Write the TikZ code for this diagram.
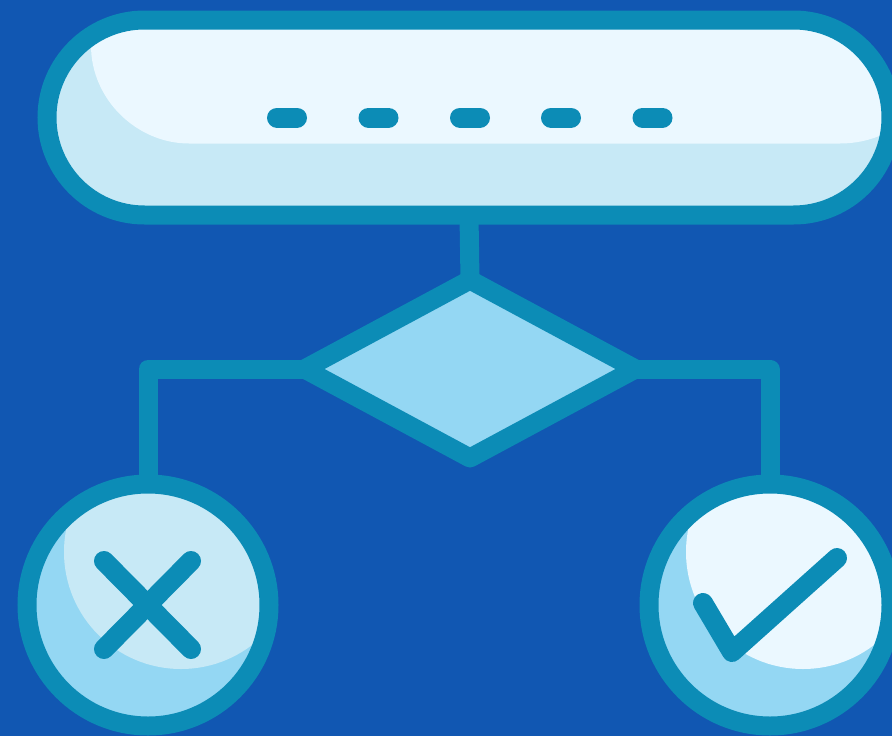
\documentclass[tikz,border=0pt]{standalone}
\usepackage{xcolor}
\usepackage{tikz}
\usetikzlibrary{shapes.geometric, shapes.misc, calc}
\definecolor{pagebg}{RGB}{17,87,178}
\definecolor{edgeteal}{RGB}{12,140,182}
\definecolor{palewhite}{RGB}{235,248,255}
\definecolor{paleblue}{RGB}{199,233,246}
\definecolor{midblue}{RGB}{148,215,243}
\tikzset{
  startbar/.style={
    draw=edgeteal, rounded rectangle, fill=paleblue,
    minimum width=844pt, minimum height=195pt,
    inner sep=0pt, outer sep=0pt, line width=19pt
  },
  decision/.style={
    draw=edgeteal, diamond, fill=midblue,
    minimum width=331pt, minimum height=178pt,
    inner sep=0pt, outer sep=0pt, line width=19pt, line join=round
  },
  result/.style={
    draw=edgeteal, circle, fill=midblue,
    minimum size=242pt,
    inner sep=0pt, outer sep=0pt, line width=19pt
  },
  wire/.style={draw=edgeteal, line width=19pt, line join=round},
  glyph/.style={draw=edgeteal, line width=20pt, line cap=round, line join=round},
  % highlight disc inside a result circle
  glare/.style={path picture={
    \fill[#1] ($(path picture bounding box.center)+(33,-53)$) circle (117pt);
  }}
}

\begin{document}
\begin{tikzpicture}[x=1pt, y=-1pt]
  \path[use as bounding box, clip] (0,0) rectangle (892,736);
  \fill[pagebg] (0,0) rectangle (892,736);

  \node[startbar, path picture={
    \fill[palewhite, shift={(path picture bounding box.center)}]
      (-378,-117) -- (-378,-72)
      .. controls (-378,-18) and (-332,26) .. (-280,26)
      -- (371,26)
      .. controls (386,26) and (401,23) .. (416,16)
      -- (426,-117) -- cycle;
  }] (start) at (469,117.5) {};
  \node[decision] (choice) at (470,369) {};
  \node[result, glare=paleblue] (fail) at (148,605) {};
  \node[result, glare=palewhite] (pass) at (770,605) {};

  % connectors
  \draw[wire] (start.south) -- (choice.north);
  \draw[wire] (choice.west) -| (fail.north);
  \draw[wire] (choice.east) -| (pass.north);

  % dots in the bar
  \foreach \xpos in {277,368.5,460,551,642.5}
    \draw[glyph] (\xpos,117.5) -- ++(20,0);

  % cross and tick
  \draw[glyph] (104,561) -- (191,649);
  \draw[glyph] (191,561) -- (104,649);
  \draw[glyph] (703,603) -- (732,652) -- (837,558);
\end{tikzpicture}
\end{document}
